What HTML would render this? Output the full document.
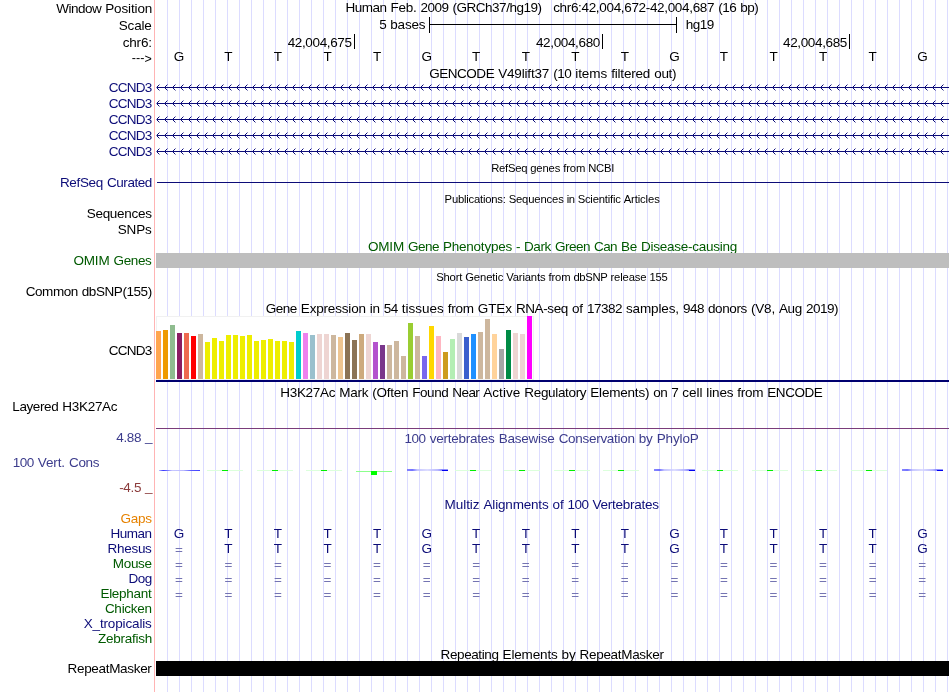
<!DOCTYPE html>
<html lang="en"><head><meta charset="utf-8"><title>UCSC Genome Browser - chr6:42,004,672-42,004,687</title>
<style>
html,body{margin:0;padding:0;background:#fff}
body{width:950px;height:692px;position:relative;overflow:hidden;font-family:"Liberation Sans",sans-serif}
#guides{position:absolute;left:156px;top:0;width:793px;height:692px;background-image:linear-gradient(to right,transparent 11px,#dcdcff 11px);background-size:12px 100%}
#sep{position:absolute;left:154px;top:0;width:1px;height:692px;background:#ffb4b4}
.t{position:absolute;white-space:pre;font-size:13.5px;line-height:15px;height:15px;color:#000}
.s{font-size:11.25px;line-height:12px;height:12px}
.n{color:#0c0c78}.g{color:#005a00}.o{color:#e68200}.wb{color:#3c3c8c}.wr{color:#8c3c3c}
.e{transform:translateY(1px) scaleY(0.81);transform-origin:0 12px;color:#7474b2}
svg{position:absolute;left:0;top:0}
</style></head>
<body>
<div id="guides"></div>
<div id="sep"></div>
<div class="t" style="left:56.15px;top:1px;word-spacing:0.249px"><span style="letter-spacing:-0.502px">Window</span> <span style="letter-spacing:-0.128px">Position</span></div>
<div class="t" style="left:118.73px;top:18px;letter-spacing:-0.154px">Scale</div>
<div class="t" style="left:122.75px;top:35px;letter-spacing:-0.202px">chr6:</div>
<div class="t" style="left:131.75px;top:51px;letter-spacing:0.053px;font-size:12.5px">---<span style="position:relative;top:1px">&gt;</span></div>
<div class="t n" style="left:108.67px;top:80px;letter-spacing:-0.701px">CCND3</div>
<div class="t n" style="left:108.67px;top:96px;letter-spacing:-0.701px">CCND3</div>
<div class="t n" style="left:108.67px;top:112px;letter-spacing:-0.701px">CCND3</div>
<div class="t n" style="left:108.67px;top:128px;letter-spacing:-0.701px">CCND3</div>
<div class="t n" style="left:108.67px;top:144px;letter-spacing:-0.701px">CCND3</div>
<div class="t n" style="left:59.92px;top:175px;word-spacing:0.249px"><span style="letter-spacing:-0.338px">RefSeq</span> <span style="letter-spacing:-0.433px">Curated</span></div>
<div class="t" style="left:86.70px;top:206px;letter-spacing:-0.284px">Sequences</div>
<div class="t" style="left:117.70px;top:222px;letter-spacing:-0.127px">SNPs</div>
<div class="t g" style="left:73.50px;top:253px;word-spacing:0.249px"><span style="letter-spacing:-0.186px">OMIM</span> <span style="letter-spacing:-0.355px">Genes</span></div>
<div class="t" style="left:25.77px;top:284px;word-spacing:0.249px"><span style="letter-spacing:-0.461px">Common</span> <span style="letter-spacing:-0.429px">dbSNP(155)</span></div>
<div class="t" style="left:108.65px;top:343px;letter-spacing:-0.701px">CCND3</div>
<div class="t" style="left:12.27px;top:399px;word-spacing:0.249px"><span style="letter-spacing:-0.398px">Layered</span> <span style="letter-spacing:-0.290px">H3K27Ac</span></div>
<div class="t wb" style="left:116.20px;top:430px;letter-spacing:-0.319px">4.88</div>
<div class="t wb" style="left:145.10px;top:429px;letter-spacing:-0.508px">_</div>
<div class="t wb" style="left:12.75px;top:455px;word-spacing:0.249px"><span style="letter-spacing:-0.508px">100</span> <span style="letter-spacing:-0.102px">Vert.</span> <span style="letter-spacing:-0.379px">Cons</span></div>
<div class="t wr" style="left:119.20px;top:480px;letter-spacing:-0.316px">-4.5</div>
<div class="t wr" style="left:145.10px;top:479px;letter-spacing:-0.508px">_</div>
<div class="t o" style="left:120.62px;top:511px;letter-spacing:-0.317px">Gaps</div>
<div class="t n" style="left:110.50px;top:526px;letter-spacing:-0.504px">Human</div>
<div class="t n" style="left:107.58px;top:541px;letter-spacing:-0.296px">Rhesus</div>
<div class="t g" style="left:112.75px;top:556px;letter-spacing:-0.304px">Mouse</div>
<div class="t n" style="left:128.62px;top:571px;letter-spacing:-0.588px">Dog</div>
<div class="t g" style="left:100.45px;top:586px;letter-spacing:-0.287px">Elephant</div>
<div class="t g" style="left:104.88px;top:601px;letter-spacing:-0.253px">Chicken</div>
<div class="t n" style="left:83.70px;top:616px;letter-spacing:-0.148px">X_tropicalis</div>
<div class="t g" style="left:98.00px;top:631px;letter-spacing:-0.253px">Zebrafish</div>
<div class="t" style="left:67.50px;top:661px;letter-spacing:-0.316px">RepeatMasker</div>
<div class="t" style="left:345.47px;top:0px;word-spacing:0.249px"><span style="letter-spacing:-0.504px">Human</span> <span style="letter-spacing:-0.253px">Feb.</span> <span style="letter-spacing:-0.508px">2009</span> <span style="letter-spacing:-0.484px">(GRCh37/hg19)</span></div>
<div class="t" style="left:553.17px;top:0px;word-spacing:0.249px"><span style="letter-spacing:-0.332px">chr6:42,004,672-42,004,687</span> <span style="letter-spacing:-0.504px">(16</span> <span style="letter-spacing:-0.504px">bp)</span></div>
<div class="t" style="left:379.30px;top:17px;word-spacing:0.249px"><span style="letter-spacing:-0.508px">5</span> <span style="letter-spacing:-0.205px">bases</span></div>
<div class="t" style="left:685.78px;top:17px;letter-spacing:-0.508px">hg19</div>
<div class="t" style="left:287.65px;top:35px;letter-spacing:-0.357px">42,004,675</div>
<div class="t" style="left:535.95px;top:35px;letter-spacing:-0.357px">42,004,680</div>
<div class="t" style="left:783.00px;top:35px;letter-spacing:-0.357px">42,004,685</div>
<div class="t" style="left:429.18px;top:66px;word-spacing:0.249px"><span style="letter-spacing:-0.465px">GENCODE</span> <span style="letter-spacing:-0.171px">V49lift37</span> <span style="letter-spacing:-0.504px">(10</span> <span style="letter-spacing:-0.051px">items</span> <span style="letter-spacing:-0.190px">filtered</span> <span style="letter-spacing:-0.316px">out)</span></div>
<div class="t s" style="left:491.20px;top:162px;word-spacing:-0.126px"><span style="letter-spacing:-0.254px">RefSeq</span> <span style="letter-spacing:-0.130px">genes</span> <span style="letter-spacing:-0.125px">from</span> <span style="letter-spacing:-0.220px">NCBI</span></div>
<div class="t s" style="left:444.62px;top:193px;word-spacing:-0.126px"><span style="letter-spacing:-0.214px">Publications:</span> <span style="letter-spacing:-0.144px">Sequences</span> <span style="letter-spacing:-0.378px">in</span> <span style="letter-spacing:-0.202px">Scientific</span> <span style="letter-spacing:-0.110px">Articles</span></div>
<div class="t g" style="left:367.98px;top:239px;word-spacing:0.249px"><span style="letter-spacing:-0.186px">OMIM</span> <span style="letter-spacing:-0.506px">Gene</span> <span style="letter-spacing:-0.230px">Phenotypes</span> <span style="letter-spacing:-0.496px">-</span> <span style="letter-spacing:-0.376px">Dark</span> <span style="letter-spacing:-0.504px">Green</span> <span style="letter-spacing:-0.588px">Can</span> <span style="letter-spacing:-0.256px">Be</span> <span style="letter-spacing:-0.253px">Disease-causing</span></div>
<div class="t s" style="left:436.22px;top:271px;word-spacing:-0.126px"><span style="letter-spacing:-0.178px">Short</span> <span style="letter-spacing:-0.110px">Genetic</span> <span style="letter-spacing:-0.159px">Variants</span> <span style="letter-spacing:-0.125px">from</span> <span style="letter-spacing:-0.329px">dbSNP</span> <span style="letter-spacing:-0.128px">release</span> <span style="letter-spacing:-0.257px">155</span></div>
<div class="t" style="left:265.80px;top:301px;word-spacing:0.249px"><span style="letter-spacing:-0.506px">Gene</span> <span style="letter-spacing:-0.178px">Expression</span> <span style="letter-spacing:-0.254px">in</span> <span style="letter-spacing:-0.508px">54</span> <span style="letter-spacing:-0.002px">tissues</span> <span style="letter-spacing:-0.250px">from</span> <span style="letter-spacing:-0.125px">GTEx</span> <span style="letter-spacing:-0.395px">RNA-seq</span> <span style="letter-spacing:-0.129px">of</span> <span style="letter-spacing:-0.508px">17382</span> <span style="letter-spacing:-0.127px">samples,</span> <span style="letter-spacing:-0.508px">948</span> <span style="letter-spacing:-0.380px">donors</span> <span style="letter-spacing:-0.190px">(V8,</span> <span style="letter-spacing:-0.340px">Aug</span> <span style="letter-spacing:-0.506px">2019)</span></div>
<div class="t" style="left:280.23px;top:385px;word-spacing:0.249px"><span style="letter-spacing:-0.290px">H3K27Ac</span> <span style="letter-spacing:-0.250px">Mark</span> <span style="letter-spacing:-0.252px">(Often</span> <span style="letter-spacing:-0.456px">Found</span> <span style="letter-spacing:-0.565px">Near</span> <span style="letter-spacing:0.040px">Active</span> <span style="letter-spacing:-0.329px">Regulatory</span> <span style="letter-spacing:-0.197px">Elements)</span> <span style="letter-spacing:-0.508px">on</span> <span style="letter-spacing:-0.508px">7</span> <span style="letter-spacing:-0.064px">cell</span> <span style="letter-spacing:-0.153px">lines</span> <span style="letter-spacing:-0.250px">from</span> <span style="letter-spacing:-0.460px">ENCODE</span></div>
<div class="t wb" style="left:404.62px;top:431px;word-spacing:0.249px"><span style="letter-spacing:-0.508px">100</span> <span style="letter-spacing:-0.230px">vertebrates</span> <span style="letter-spacing:-0.222px">Basewise</span> <span style="letter-spacing:-0.295px">Conservation</span> <span style="letter-spacing:-0.129px">by</span> <span style="letter-spacing:-0.129px">PhyloP</span></div>
<div class="t n" style="left:444.50px;top:497px;word-spacing:0.249px"><span style="letter-spacing:-0.042px">Multiz</span> <span style="letter-spacing:-0.178px">Alignments</span> <span style="letter-spacing:-0.129px">of</span> <span style="letter-spacing:-0.508px">100</span> <span style="letter-spacing:-0.253px">Vertebrates</span></div>
<div class="t" style="left:440.55px;top:647px;word-spacing:0.249px"><span style="letter-spacing:-0.394px">Repeating</span> <span style="letter-spacing:-0.159px">Elements</span> <span style="letter-spacing:-0.129px">by</span> <span style="letter-spacing:-0.316px">RepeatMasker</span></div>
<div class="t" style="left:173.83px;top:49px;letter-spacing:-0.501px">G</div>
<div class="t n" style="left:173.83px;top:526px;letter-spacing:-0.501px">G</div>
<div class="t e n" style="left:174.95px;top:541px;letter-spacing:0.116px">=</div>
<div class="t e n" style="left:174.95px;top:556px;letter-spacing:0.116px">=</div>
<div class="t e n" style="left:174.95px;top:571px;letter-spacing:0.116px">=</div>
<div class="t e n" style="left:174.95px;top:586px;letter-spacing:0.116px">=</div>
<div class="t" style="left:224.32px;top:49px;letter-spacing:-0.246px">T</div>
<div class="t n" style="left:224.32px;top:526px;letter-spacing:-0.246px">T</div>
<div class="t n" style="left:224.32px;top:541px;letter-spacing:-0.246px">T</div>
<div class="t e n" style="left:224.44px;top:556px;letter-spacing:0.116px">=</div>
<div class="t e n" style="left:224.44px;top:571px;letter-spacing:0.116px">=</div>
<div class="t e n" style="left:224.44px;top:586px;letter-spacing:0.116px">=</div>
<div class="t" style="left:273.81px;top:49px;letter-spacing:-0.246px">T</div>
<div class="t n" style="left:273.81px;top:526px;letter-spacing:-0.246px">T</div>
<div class="t n" style="left:273.81px;top:541px;letter-spacing:-0.246px">T</div>
<div class="t e n" style="left:274.06px;top:556px;letter-spacing:0.116px">=</div>
<div class="t e n" style="left:274.06px;top:571px;letter-spacing:0.116px">=</div>
<div class="t e n" style="left:274.06px;top:586px;letter-spacing:0.116px">=</div>
<div class="t" style="left:323.42px;top:49px;letter-spacing:-0.246px">T</div>
<div class="t n" style="left:323.42px;top:526px;letter-spacing:-0.246px">T</div>
<div class="t n" style="left:323.42px;top:541px;letter-spacing:-0.246px">T</div>
<div class="t e n" style="left:323.55px;top:556px;letter-spacing:0.116px">=</div>
<div class="t e n" style="left:323.55px;top:571px;letter-spacing:0.116px">=</div>
<div class="t e n" style="left:323.55px;top:586px;letter-spacing:0.116px">=</div>
<div class="t" style="left:372.91px;top:49px;letter-spacing:-0.246px">T</div>
<div class="t n" style="left:372.91px;top:526px;letter-spacing:-0.246px">T</div>
<div class="t n" style="left:372.91px;top:541px;letter-spacing:-0.246px">T</div>
<div class="t e n" style="left:373.04px;top:556px;letter-spacing:0.116px">=</div>
<div class="t e n" style="left:373.04px;top:571px;letter-spacing:0.116px">=</div>
<div class="t e n" style="left:373.04px;top:586px;letter-spacing:0.116px">=</div>
<div class="t" style="left:421.53px;top:49px;letter-spacing:-0.501px">G</div>
<div class="t n" style="left:421.53px;top:526px;letter-spacing:-0.501px">G</div>
<div class="t n" style="left:421.53px;top:541px;letter-spacing:-0.501px">G</div>
<div class="t e n" style="left:422.65px;top:556px;letter-spacing:0.116px">=</div>
<div class="t e n" style="left:422.65px;top:571px;letter-spacing:0.116px">=</div>
<div class="t e n" style="left:422.65px;top:586px;letter-spacing:0.116px">=</div>
<div class="t" style="left:472.02px;top:49px;letter-spacing:-0.246px">T</div>
<div class="t n" style="left:472.02px;top:526px;letter-spacing:-0.246px">T</div>
<div class="t n" style="left:472.02px;top:541px;letter-spacing:-0.246px">T</div>
<div class="t e n" style="left:472.27px;top:556px;letter-spacing:0.116px">=</div>
<div class="t e n" style="left:472.27px;top:571px;letter-spacing:0.116px">=</div>
<div class="t e n" style="left:472.27px;top:586px;letter-spacing:0.116px">=</div>
<div class="t" style="left:521.63px;top:49px;letter-spacing:-0.246px">T</div>
<div class="t n" style="left:521.63px;top:526px;letter-spacing:-0.246px">T</div>
<div class="t n" style="left:521.63px;top:541px;letter-spacing:-0.246px">T</div>
<div class="t e n" style="left:521.76px;top:556px;letter-spacing:0.116px">=</div>
<div class="t e n" style="left:521.76px;top:571px;letter-spacing:0.116px">=</div>
<div class="t e n" style="left:521.76px;top:586px;letter-spacing:0.116px">=</div>
<div class="t" style="left:571.24px;top:49px;letter-spacing:-0.246px">T</div>
<div class="t n" style="left:571.24px;top:526px;letter-spacing:-0.246px">T</div>
<div class="t n" style="left:571.24px;top:541px;letter-spacing:-0.246px">T</div>
<div class="t e n" style="left:571.37px;top:556px;letter-spacing:0.116px">=</div>
<div class="t e n" style="left:571.37px;top:571px;letter-spacing:0.116px">=</div>
<div class="t e n" style="left:571.37px;top:586px;letter-spacing:0.116px">=</div>
<div class="t" style="left:620.74px;top:49px;letter-spacing:-0.246px">T</div>
<div class="t n" style="left:620.74px;top:526px;letter-spacing:-0.246px">T</div>
<div class="t n" style="left:620.74px;top:541px;letter-spacing:-0.246px">T</div>
<div class="t e n" style="left:620.86px;top:556px;letter-spacing:0.116px">=</div>
<div class="t e n" style="left:620.86px;top:571px;letter-spacing:0.116px">=</div>
<div class="t e n" style="left:620.86px;top:586px;letter-spacing:0.116px">=</div>
<div class="t" style="left:669.23px;top:49px;letter-spacing:-0.501px">G</div>
<div class="t n" style="left:669.23px;top:526px;letter-spacing:-0.501px">G</div>
<div class="t n" style="left:669.23px;top:541px;letter-spacing:-0.501px">G</div>
<div class="t e n" style="left:670.48px;top:556px;letter-spacing:0.116px">=</div>
<div class="t e n" style="left:670.48px;top:571px;letter-spacing:0.116px">=</div>
<div class="t e n" style="left:670.48px;top:586px;letter-spacing:0.116px">=</div>
<div class="t" style="left:719.84px;top:49px;letter-spacing:-0.246px">T</div>
<div class="t n" style="left:719.84px;top:526px;letter-spacing:-0.246px">T</div>
<div class="t n" style="left:719.84px;top:541px;letter-spacing:-0.246px">T</div>
<div class="t e n" style="left:720.09px;top:556px;letter-spacing:0.116px">=</div>
<div class="t e n" style="left:720.09px;top:571px;letter-spacing:0.116px">=</div>
<div class="t e n" style="left:720.09px;top:586px;letter-spacing:0.116px">=</div>
<div class="t" style="left:769.45px;top:49px;letter-spacing:-0.246px">T</div>
<div class="t n" style="left:769.45px;top:526px;letter-spacing:-0.246px">T</div>
<div class="t n" style="left:769.45px;top:541px;letter-spacing:-0.246px">T</div>
<div class="t e n" style="left:769.58px;top:556px;letter-spacing:0.116px">=</div>
<div class="t e n" style="left:769.58px;top:571px;letter-spacing:0.116px">=</div>
<div class="t e n" style="left:769.58px;top:586px;letter-spacing:0.116px">=</div>
<div class="t" style="left:818.94px;top:49px;letter-spacing:-0.246px">T</div>
<div class="t n" style="left:818.94px;top:526px;letter-spacing:-0.246px">T</div>
<div class="t n" style="left:818.94px;top:541px;letter-spacing:-0.246px">T</div>
<div class="t e n" style="left:819.07px;top:556px;letter-spacing:0.116px">=</div>
<div class="t e n" style="left:819.07px;top:571px;letter-spacing:0.116px">=</div>
<div class="t e n" style="left:819.07px;top:586px;letter-spacing:0.116px">=</div>
<div class="t" style="left:868.56px;top:49px;letter-spacing:-0.246px">T</div>
<div class="t n" style="left:868.56px;top:526px;letter-spacing:-0.246px">T</div>
<div class="t n" style="left:868.56px;top:541px;letter-spacing:-0.246px">T</div>
<div class="t e n" style="left:868.69px;top:556px;letter-spacing:0.116px">=</div>
<div class="t e n" style="left:868.69px;top:571px;letter-spacing:0.116px">=</div>
<div class="t e n" style="left:868.69px;top:586px;letter-spacing:0.116px">=</div>
<div class="t" style="left:917.18px;top:49px;letter-spacing:-0.501px">G</div>
<div class="t n" style="left:917.18px;top:526px;letter-spacing:-0.501px">G</div>
<div class="t n" style="left:917.18px;top:541px;letter-spacing:-0.501px">G</div>
<div class="t e n" style="left:918.18px;top:556px;letter-spacing:0.116px">=</div>
<div class="t e n" style="left:918.18px;top:571px;letter-spacing:0.116px">=</div>
<div class="t e n" style="left:918.18px;top:586px;letter-spacing:0.116px">=</div>
<svg width="950" height="692" viewBox="0 0 950 692" shape-rendering="crispEdges">
<defs><pattern id="chev" x="156" y="-3" width="8" height="7" patternUnits="userSpaceOnUse"><path fill="#0c0c78" d="M1 2h1v3h-1zM2 1h1v1h-1zM2 5h1v1h-1z"/><path fill="#0c0c78" fill-opacity="0.45" d="M3 0h1v1h-1zM3 6h1v1h-1z"/></pattern>
<linearGradient id="bl0" x1="0" x2="1" y1="0" y2="0"><stop offset="0" stop-color="#c0c0ff"/><stop offset="0.1" stop-color="#3838ff"/><stop offset="0.2" stop-color="#7070ff"/><stop offset="0.32" stop-color="#c8c8ff"/><stop offset="0.6" stop-color="#b8b8ff"/><stop offset="0.78" stop-color="#5a5aff"/><stop offset="1" stop-color="#4040ff"/></linearGradient>
<linearGradient id="bl" x1="0" x2="1" y1="0" y2="0"><stop offset="0" stop-color="#6868ff"/><stop offset="0.13" stop-color="#5050ff"/><stop offset="0.25" stop-color="#b8b8ff"/><stop offset="0.5" stop-color="#d4d4ff"/><stop offset="0.75" stop-color="#a8a8ff"/><stop offset="0.85" stop-color="#7070ff"/><stop offset="1" stop-color="#8080ff"/></linearGradient>
</defs>
<rect x="429" y="24" width="248" height="1" fill="#000"/>
<rect x="429" y="17" width="1" height="16" fill="#000"/>
<rect x="676" y="17" width="1" height="16" fill="#000"/>
<rect x="354" y="34" width="1" height="15" fill="#000"/>
<rect x="602" y="34" width="1" height="15" fill="#000"/>
<rect x="849" y="34" width="1" height="15" fill="#000"/>
<rect x="157" y="87" width="792" height="1" fill="#0c0c78"/>
<rect x="156" y="87" width="1" height="1" fill="#0c0c78" fill-opacity="0.5"/>
<g transform="translate(0,87)"><rect x="156" y="-3" width="789" height="7" fill="url(#chev)"/></g>
<rect x="157" y="103" width="792" height="1" fill="#0c0c78"/>
<rect x="156" y="103" width="1" height="1" fill="#0c0c78" fill-opacity="0.5"/>
<g transform="translate(0,103)"><rect x="156" y="-3" width="789" height="7" fill="url(#chev)"/></g>
<rect x="157" y="119" width="792" height="1" fill="#0c0c78"/>
<rect x="156" y="119" width="1" height="1" fill="#0c0c78" fill-opacity="0.5"/>
<g transform="translate(0,119)"><rect x="156" y="-3" width="789" height="7" fill="url(#chev)"/></g>
<rect x="157" y="135" width="792" height="1" fill="#0c0c78"/>
<rect x="156" y="135" width="1" height="1" fill="#0c0c78" fill-opacity="0.5"/>
<g transform="translate(0,135)"><rect x="156" y="-3" width="789" height="7" fill="url(#chev)"/></g>
<rect x="157" y="151" width="792" height="1" fill="#0c0c78"/>
<rect x="156" y="151" width="1" height="1" fill="#0c0c78" fill-opacity="0.5"/>
<g transform="translate(0,151)"><rect x="156" y="-3" width="789" height="7" fill="url(#chev)"/></g>
<rect x="157" y="182" width="792" height="1" fill="#0c0c78"/>
<rect x="156" y="253" width="793" height="15" fill="#bebebe"/>
<rect x="156" y="316" width="378" height="64" fill="#f1f1f1"/>
<rect x="157" y="317" width="376" height="62" fill="#fff"/>
<rect x="156" y="331" width="5" height="48" fill="#FFA54F"/>
<rect x="163" y="330" width="5" height="49" fill="#EE9A00"/>
<rect x="170" y="325" width="5" height="54" fill="#8FBC8F"/>
<rect x="177" y="333" width="5" height="46" fill="#8B1C62"/>
<rect x="184" y="333" width="5" height="46" fill="#EE6A50"/>
<rect x="191" y="336" width="5" height="43" fill="#FF0000"/>
<rect x="198" y="334" width="5" height="45" fill="#CDB79E"/>
<rect x="205" y="342" width="5" height="37" fill="#EEEE00"/>
<rect x="212" y="338" width="5" height="41" fill="#EEEE00"/>
<rect x="219" y="341" width="5" height="38" fill="#EEEE00"/>
<rect x="226" y="335" width="5" height="44" fill="#EEEE00"/>
<rect x="233" y="335" width="5" height="44" fill="#EEEE00"/>
<rect x="240" y="336" width="5" height="43" fill="#EEEE00"/>
<rect x="247" y="335" width="5" height="44" fill="#EEEE00"/>
<rect x="254" y="341" width="5" height="38" fill="#EEEE00"/>
<rect x="261" y="340" width="5" height="39" fill="#EEEE00"/>
<rect x="268" y="339" width="5" height="40" fill="#EEEE00"/>
<rect x="275" y="341" width="5" height="38" fill="#EEEE00"/>
<rect x="282" y="341" width="5" height="38" fill="#EEEE00"/>
<rect x="289" y="342" width="5" height="37" fill="#EEEE00"/>
<rect x="296" y="331" width="5" height="48" fill="#00CDCD"/>
<rect x="303" y="333" width="5" height="46" fill="#EE82EE"/>
<rect x="310" y="335" width="5" height="44" fill="#9AC0CD"/>
<rect x="317" y="334" width="5" height="45" fill="#EED5D2"/>
<rect x="324" y="334" width="5" height="45" fill="#EED5D2"/>
<rect x="331" y="335" width="5" height="44" fill="#CDB79E"/>
<rect x="338" y="337" width="5" height="42" fill="#EEC591"/>
<rect x="345" y="333" width="5" height="46" fill="#8B7355"/>
<rect x="352" y="340" width="5" height="39" fill="#8B7355"/>
<rect x="359" y="334" width="5" height="45" fill="#CDAA7D"/>
<rect x="366" y="334" width="5" height="45" fill="#EED5D2"/>
<rect x="373" y="342" width="5" height="37" fill="#B452CD"/>
<rect x="380" y="345" width="5" height="34" fill="#7A378B"/>
<rect x="387" y="345" width="5" height="34" fill="#CDB79E"/>
<rect x="394" y="341" width="5" height="38" fill="#CDB79E"/>
<rect x="401" y="356" width="5" height="23" fill="#CDB79E"/>
<rect x="408" y="323" width="5" height="56" fill="#9ACD32"/>
<rect x="415" y="336" width="5" height="43" fill="#CDB79E"/>
<rect x="422" y="356" width="5" height="23" fill="#7A67EE"/>
<rect x="429" y="326" width="5" height="53" fill="#FFD700"/>
<rect x="436" y="336" width="5" height="43" fill="#FFB6C1"/>
<rect x="443" y="352" width="5" height="27" fill="#CD9B1D"/>
<rect x="450" y="339" width="5" height="40" fill="#B4EEB4"/>
<rect x="457" y="333" width="5" height="46" fill="#D9D9D9"/>
<rect x="464" y="337" width="5" height="42" fill="#3A5FCD"/>
<rect x="471" y="334" width="5" height="45" fill="#1E90FF"/>
<rect x="478" y="332" width="5" height="47" fill="#CDB79E"/>
<rect x="485" y="319" width="5" height="60" fill="#CDB79E"/>
<rect x="492" y="334" width="5" height="45" fill="#FFD39B"/>
<rect x="499" y="349" width="5" height="30" fill="#A6A6A6"/>
<rect x="506" y="330" width="5" height="49" fill="#008B45"/>
<rect x="513" y="333" width="5" height="46" fill="#EED5D2"/>
<rect x="520" y="334" width="5" height="45" fill="#EED5D2"/>
<rect x="527" y="316" width="5" height="63" fill="#FF00FF"/>
<rect x="156" y="380" width="793" height="2" fill="#000070"/>
<rect x="156" y="428" width="793" height="1" fill="#7a3c7a"/>
<rect x="159" y="470" width="41" height="1" fill="url(#bl0)"/>
<rect x="207" y="470" width="36" height="1" fill="#dcffdc"/>
<rect x="222" y="470" width="6" height="1" fill="#00f000"/>
<rect x="257" y="470" width="36" height="1" fill="#dcffdc"/>
<rect x="272" y="470" width="6" height="1" fill="#00f000"/>
<rect x="306" y="470" width="36" height="1" fill="#dcffdc"/>
<rect x="321" y="470" width="6" height="1" fill="#00f000"/>
<rect x="356" y="471" width="36" height="1" fill="#8cff8c"/>
<rect x="371" y="471" width="6" height="4" fill="#00ff00"/>
<rect x="407" y="469" width="41" height="2" fill="url(#bl)" opacity="0.8"/>
<rect x="442" y="470" width="6" height="1" fill="#0000f0"/>
<rect x="455" y="470" width="36" height="1" fill="#dcffdc"/>
<rect x="470" y="470" width="6" height="1" fill="#00f000"/>
<rect x="504" y="470" width="36" height="1" fill="#dcffdc"/>
<rect x="519" y="470" width="6" height="1" fill="#00f000"/>
<rect x="554" y="470" width="36" height="1" fill="#dcffdc"/>
<rect x="569" y="470" width="6" height="1" fill="#00f000"/>
<rect x="603" y="470" width="36" height="1" fill="#dcffdc"/>
<rect x="618" y="470" width="6" height="1" fill="#00f000"/>
<rect x="654" y="469" width="41" height="2" fill="url(#bl)" opacity="0.8"/>
<rect x="689" y="470" width="6" height="1" fill="#0000f0"/>
<rect x="702" y="470" width="36" height="1" fill="#dcffdc"/>
<rect x="717" y="470" width="6" height="1" fill="#00f000"/>
<rect x="752" y="470" width="36" height="1" fill="#dcffdc"/>
<rect x="767" y="470" width="6" height="1" fill="#00f000"/>
<rect x="801" y="470" width="36" height="1" fill="#dcffdc"/>
<rect x="816" y="470" width="6" height="1" fill="#00f000"/>
<rect x="851" y="470" width="36" height="1" fill="#dcffdc"/>
<rect x="866" y="470" width="6" height="1" fill="#00f000"/>
<rect x="902" y="469" width="41" height="2" fill="url(#bl)" opacity="0.8"/>
<rect x="937" y="470" width="6" height="1" fill="#0000f0"/>
<rect x="156" y="661" width="793" height="15" fill="#000"/>
</svg>
</body></html>
